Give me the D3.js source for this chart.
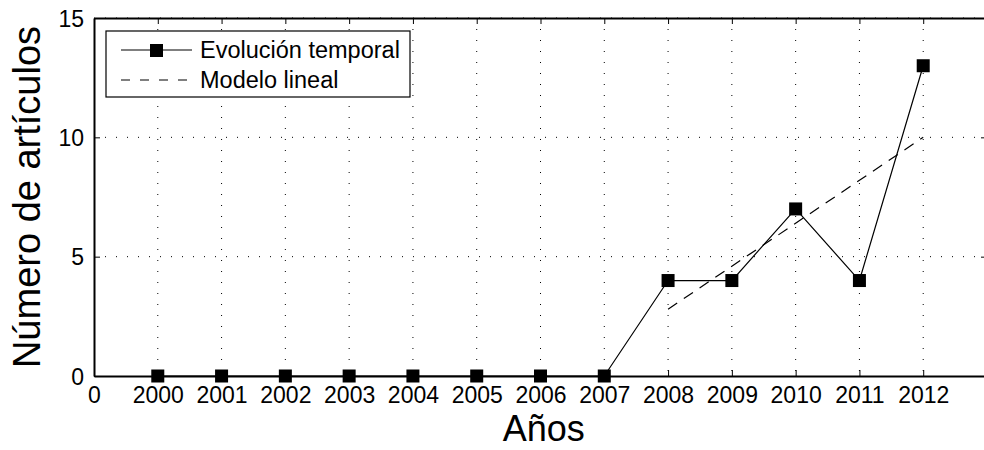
<!DOCTYPE html>
<html>
<head>
<meta charset="utf-8">
<script src="https://cdn.jsdelivr.net/npm/d3@7"></script>
<style>
  body { margin: 0; background: #fff; }
  text { font-family: "Liberation Sans", Arial, sans-serif; fill: #000; }
</style>
</head>
<body>
<div id="chart"></div>
<script>
var tickLabels = ["0", "2000", "2001", "2002", "2003", "2004", "2005", "2006", "2007", "2008", "2009", "2010", "2011", "2012"];
var years = [2000, 2001, 2002, 2003, 2004, 2005, 2006, 2007, 2008, 2009, 2010, 2011, 2012];
var articles = [0, 0, 0, 0, 0, 0, 0, 0, 4, 4, 7, 4, 13];
var modelYears = [2008, 2012];
var modelValues = [2.8, 10.0];
var yTicks = [0, 5, 10, 15];

var width = 984, height = 450,
    margin = { left: 94, top: 18, bottom: 74 },
    plotW = 893,
    plotH = height - margin.top - margin.bottom;

// year -> tick index (tick 0 is "0", 2000 is at 1)
function pos(year) { return year - 1999; }

var x = d3.scaleLinear().domain([0, 14]).range([0, plotW]);
var y = d3.scaleLinear().domain([0, 15]).range([plotH, 0]);

var svg = d3.select("#chart").append("svg")
    .attr("width", width)
    .attr("height", height);

var g = svg.append("g")
    .attr("transform", "translate(" + margin.left + "," + margin.top + ")");

// dotted grid
g.append("g").selectAll("line.vg")
  .data(d3.range(1, tickLabels.length))
  .enter().append("line")
    .attr("x1", function (d) { return x(d); })
    .attr("x2", function (d) { return x(d); })
    .attr("y1", 0).attr("y2", plotH)
    .attr("stroke", "#000").attr("stroke-width", 1)
    .attr("stroke-dasharray", "1,10");

g.append("g").selectAll("line.hg")
  .data(yTicks.slice(1))
  .enter().append("line")
    .attr("x1", 0).attr("x2", plotW)
    .attr("y1", function (d) { return y(d); })
    .attr("y2", function (d) { return y(d); })
    .attr("stroke", "#000").attr("stroke-width", 1)
    .attr("stroke-dasharray", "1,10");

// axes (ticks inward, like matlab)
var xAxis = d3.axisBottom(x)
    .tickValues(d3.range(tickLabels.length))
    .tickFormat(function (d) { return tickLabels[d]; })
    .tickSizeInner(-6).tickSizeOuter(0).tickPadding(11);

var gx = g.append("g")
    .attr("transform", "translate(0," + plotH + ")")
    .call(xAxis);

var yAxis = d3.axisLeft(y)
    .tickValues(yTicks)
    .tickSizeInner(-6).tickSizeOuter(0).tickPadding(10);

var gy = g.append("g").call(yAxis);

// top and right mirrored ticks
g.append("g").call(d3.axisTop(x).tickValues(d3.range(tickLabels.length)).tickFormat("").tickSizeInner(-6).tickSizeOuter(0));
g.append("g").attr("transform", "translate(" + plotW + ",0)")
  .call(d3.axisRight(y).tickValues(yTicks).tickFormat("").tickSizeInner(-6).tickSizeOuter(0));

svg.selectAll(".domain").attr("stroke", "#000").attr("stroke-width", 2);
svg.selectAll(".tick line").attr("stroke", "#000").attr("stroke-width", 1);
gx.selectAll("text").style("font-size", "23px");
gy.selectAll("text").style("font-size", "23px").attr("dy", "0.36em");

// linear model (dashed)
var line = d3.line()
    .x(function (d) { return x(pos(d[0])); })
    .y(function (d) { return y(d[1]); });

g.append("path")
    .datum(d3.zip(modelYears, modelValues))
    .attr("d", line)
    .attr("fill", "none")
    .attr("stroke", "#000")
    .attr("stroke-width", 1.2)
    .attr("stroke-dasharray", "11,8");

// temporal evolution
g.append("path")
    .datum(d3.zip(years, articles))
    .attr("d", line)
    .attr("fill", "none")
    .attr("stroke", "#000")
    .attr("stroke-width", 1.2);

var ms = 13;
g.append("g").selectAll("rect")
  .data(d3.zip(years, articles))
  .enter().append("rect")
    .attr("x", function (d) { return x(pos(d[0])) - ms / 2; })
    .attr("y", function (d) { return y(d[1]) - ms / 2; })
    .attr("width", ms).attr("height", ms)
    .attr("fill", "#000");

// legend
var lg = svg.append("g").attr("transform", "translate(106,31)");
lg.append("rect")
    .attr("width", 304).attr("height", 66)
    .attr("fill", "#fff").attr("stroke", "#000").attr("stroke-width", 1.2);
lg.append("line").attr("x1", 15).attr("x2", 86).attr("y1", 19).attr("y2", 19)
    .attr("stroke", "#000").attr("stroke-width", 1.2);
lg.append("rect").attr("x", 44).attr("y", 13).attr("width", 13).attr("height", 13).attr("fill", "#000");
lg.append("line").attr("x1", 15).attr("x2", 86).attr("y1", 49).attr("y2", 49)
    .attr("stroke", "#000").attr("stroke-width", 1.2).attr("stroke-dasharray", "9,10");
lg.append("text").attr("x", 94).attr("y", 19).attr("dy", "0.36em")
    .style("font-size", "23.5px").text("Evolución temporal");
lg.append("text").attr("x", 94).attr("y", 49).attr("dy", "0.36em")
    .style("font-size", "23.5px").text("Modelo lineal");

// axis titles
svg.append("text")
    .attr("x", margin.left + x(7.05)).attr("y", 441)
    .attr("text-anchor", "middle")
    .style("font-size", "36px")
    .text("Años");

svg.append("text")
    .attr("transform", "translate(40," + (margin.top + plotH / 2) + ")rotate(-90)")
    .attr("text-anchor", "middle")
    .style("font-size", "38px")
    .text("Número de artículos");
</script>
</body>
</html>
